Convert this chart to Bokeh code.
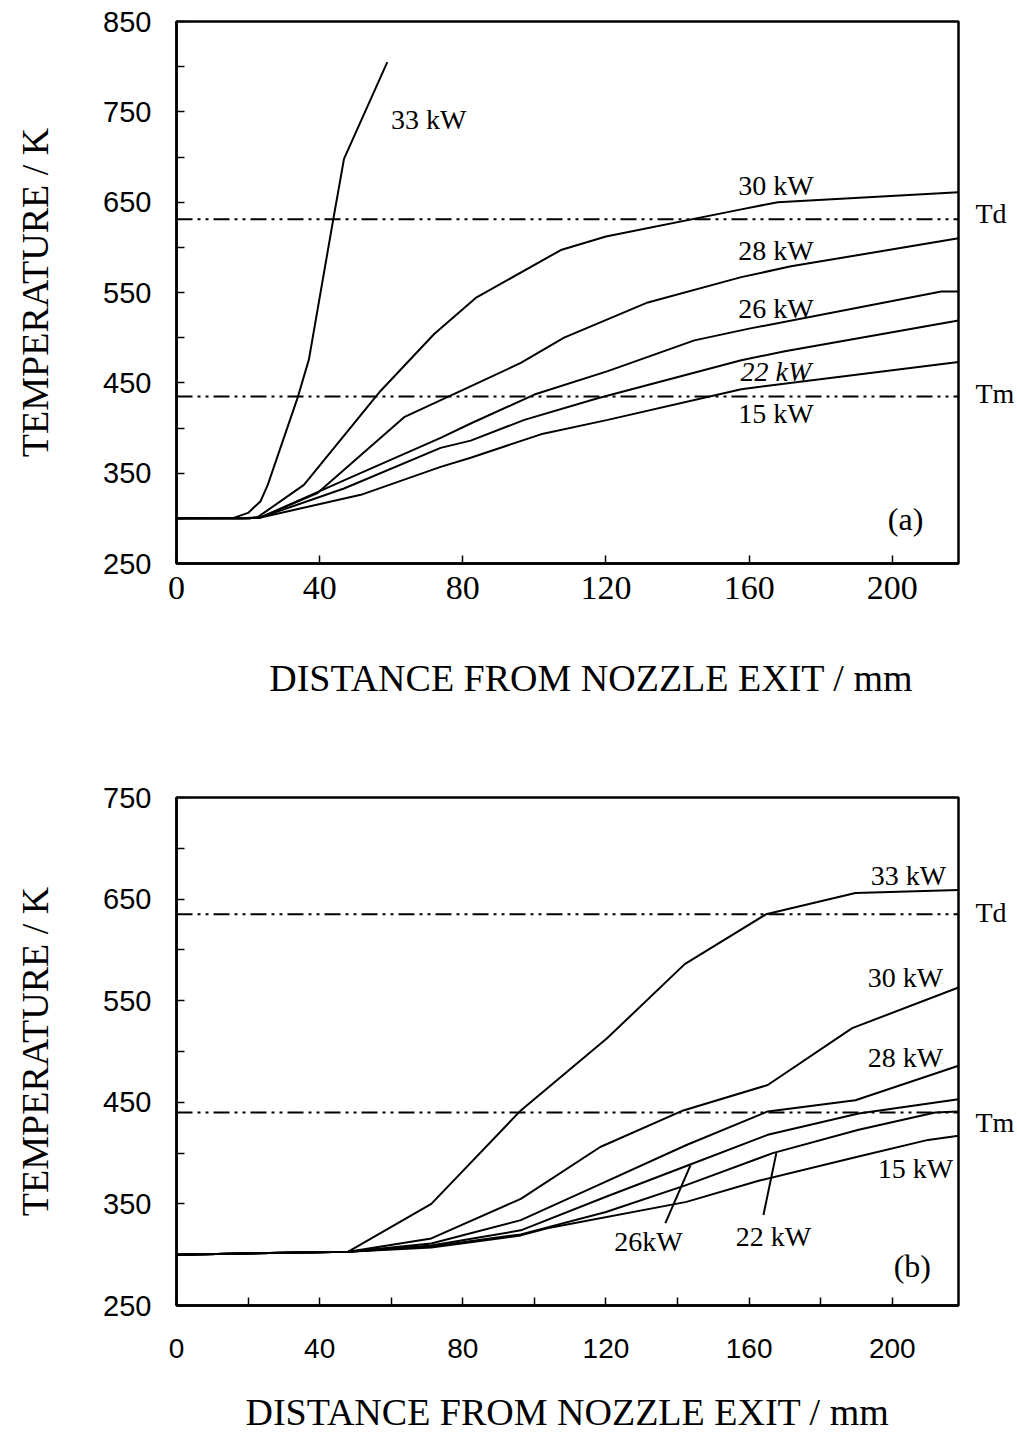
from bokeh.plotting import figure
from bokeh.models import Range1d, FixedTicker, Label, Span, LinearAxis
from bokeh.layouts import column
from bokeh.embed import file_html
from bokeh.resources import INLINE

# ---------------- Panel (a) data ----------------
a_x33 = [0, 16, 20, 23.5, 25.5, 33.8, 37, 43.8, 46.8, 58.9]
a_t33 = [300, 300.5, 306, 319, 337, 433, 476, 631, 698, 805]
a_x30 = [0, 18, 22.6, 35.6, 57, 72, 83.6, 107.4, 120, 157.8, 168, 218.5]
a_t30 = [300, 300, 301, 337, 441, 504, 544, 597, 612, 642, 650, 661]
a_x28 = [0, 20, 23.5, 39.4, 63.6, 83.2, 96.2, 108.3, 131.7, 157.8, 171.7, 218.5]
a_t28 = [300, 300, 301, 328, 412, 448, 472, 500, 539, 567, 579, 610]
a_x26 = [0, 20, 23.5, 46.8, 73.8, 82.2, 100, 120.5, 144.7, 160, 213.7, 218.5]
a_t26 = [300, 300, 301, 342, 389, 405, 437, 463, 497, 510, 551, 551]
a_x22 = [0, 20, 23.5, 46.8, 73.8, 82.2, 97.2, 117.7, 157.8, 170, 218.5]
a_t22 = [300, 300, 301, 333, 378, 386, 409, 433, 475, 485, 519]
a_x15 = [0, 20, 23.5, 51.5, 73.8, 82.2, 101.8, 120.5, 157.8, 218.5]
a_t15 = [300, 300, 301, 326, 357, 367, 393, 409, 443, 473]
a_Td = 631
a_Tm = 435
a_series = [(a_x33, a_t33), (a_x30, a_t30), (a_x28, a_t28),
            (a_x26, a_t26), (a_x22, a_t22), (a_x15, a_t15)]
a_labels = ["33 kW", "30 kW", "28 kW", "26 kW", "22 kW", "15 kW", "(a)"]
a_label_x = [70.5, 167.5, 167.5, 167.5, 167.5, 167.5, 203.7]
a_label_y = [742, 668, 596, 532, 463, 416, 299]
a_label_style = ["normal", "normal", "normal", "normal", "italic", "normal", "normal"]
a_side_names = ["Td", "Tm"]
a_side_y = [638, 438]

# ---------------- Panel (b) data ----------------
b_x33 = [0, 48, 71.2, 96.2, 120.3, 142, 164.7, 189.7, 218.5]
b_t33 = [300, 303, 350, 442, 513, 586, 635, 656, 659]
b_x30 = [0, 48, 71.2, 96.2, 118.4, 141.6, 165.2, 188.8, 218.5]
b_t30 = [300, 303, 316, 355, 406, 442, 467, 523, 563]
b_x28 = [0, 48, 71.2, 96.2, 117.5, 142.5, 165.2, 189.7, 218.5]
b_t28 = [300, 303, 311, 334, 368, 408, 441, 452, 486]
b_x26 = [0, 48, 71.2, 96.2, 120, 143, 165.2, 190.6, 218.5]
b_t26 = [300, 303, 309, 324, 357, 388, 418, 439, 453]
b_x22 = [0, 48, 71.2, 96.2, 120, 142, 166.6, 190.6, 212, 218.5]
b_t22 = [300, 303, 308, 320, 342, 368, 400, 423, 440, 441]
b_x15 = [0, 48, 71.2, 96.2, 103.6, 142.5, 162.9, 189.7, 210, 218.5]
b_t15 = [300, 303, 307, 319, 326, 352, 373, 396, 413, 417]
b_Td = 635
b_Tm = 440
b_series = [(b_x33, b_t33), (b_x30, b_t30), (b_x28, b_t28),
            (b_x26, b_t26), (b_x22, b_t22), (b_x15, b_t15)]
b_labels = ["33 kW", "30 kW", "28 kW", "15 kW", "26kW", "22 kW", "(b)"]
b_label_x = [204.5, 203.7, 203.7, 206.5, 131.9, 166.8, 205.6]
b_label_y = [673, 573, 494, 385, 313, 318, 289]
b_side_names = ["Td", "Tm"]
b_side_y = [637, 430]
b_leader_x0 = [136.6, 164.0]
b_leader_y0 = [331, 339]
b_leader_x1 = [143.6, 167.6]
b_leader_y1 = [388, 400]

# ticks
a_yticks = [250, 350, 450, 550, 650, 750, 850]
a_yminor = [300, 400, 500, 600, 700, 800]
b_yticks = [250, 350, 450, 550, 650, 750]
b_yminor = [300, 400, 500, 600, 700]
xticks = [0, 40, 80, 120, 160, 200]
b_xminor = [20, 60, 100, 140, 180]

X_MAX = 218.5
DASH = "16 5 3 5 3 5"
X_TITLE = "DISTANCE FROM NOZZLE EXIT / mm"


def base_fig(ymin, ymax, top_border, bottom_border, frame_h):
    p = figure(frame_width=782, frame_height=frame_h,
               min_border_left=176, min_border_right=50,
               min_border_top=top_border, min_border_bottom=bottom_border,
               x_range=Range1d(0, X_MAX), y_range=Range1d(ymin, ymax),
               output_backend="svg", toolbar_location=None)
    p.xgrid.visible = False
    p.ygrid.visible = False
    p.outline_line_color = "black"
    p.outline_line_width = 2.5
    p.outline_line_alpha = 1
    p.background_fill_color = "white"
    p.border_fill_color = "white"
    for ax in (p.xaxis[0], p.yaxis[0]):
        ax.axis_line_width = 2.5
        ax.axis_line_color = "black"
        ax.major_tick_in = 8
        ax.major_tick_out = 0
        ax.minor_tick_in = 8
        ax.minor_tick_out = 0
        ax.major_tick_line_width = 1.5
        ax.minor_tick_line_width = 1.5
        ax.major_label_text_color = "black"
        ax.axis_label_text_color = "black"
        ax.axis_label_text_font = "Liberation Serif"
        ax.axis_label_text_font_style = "normal"
        ax.axis_label_text_font_size = "38px"
    p.yaxis[0].major_label_text_font = "Liberation Sans"
    p.yaxis[0].major_label_text_font_size = "29px"
    p.yaxis[0].major_label_standoff = 25
    p.yaxis[0].axis_label = "TEMPERATURE / K"
    p.yaxis[0].axis_label_standoff = 44
    return p


def side_axis(p, names, ys):
    ax = LinearAxis(ticker=FixedTicker(ticks=ys, minor_ticks=[]),
                    major_label_overrides={y: n for y, n in zip(ys, names)},
                    axis_line_color=None, major_tick_line_color=None,
                    minor_tick_line_color=None, major_tick_in=0, major_tick_out=0,
                    major_label_standoff=17,
                    major_label_text_font="Liberation Serif",
                    major_label_text_font_size="28px",
                    major_label_text_color="black")
    p.add_layout(ax, "right")


# ---------------- Figure (a) ----------------
p1 = base_fig(250, 850, 21, 185, 542)
p1.yaxis[0].ticker = FixedTicker(ticks=a_yticks, minor_ticks=a_yminor)
p1.xaxis[0].ticker = FixedTicker(ticks=xticks, minor_ticks=[])
p1.xaxis[0].major_label_text_font = "Liberation Serif"
p1.xaxis[0].major_label_text_font_size = "34px"
p1.xaxis[0].major_label_standoff = 13
p1.xaxis[0].axis_label = "\u00a0" * 5 + X_TITLE
p1.xaxis[0].axis_label_standoff = 55
side_axis(p1, a_side_names, a_side_y)

for xs, ts in a_series:
    p1.line(xs, ts, line_color="black", line_width=2)
for level in (a_Td, a_Tm):
    p1.add_layout(Span(location=level, dimension="width", line_color="black",
                       line_width=2, line_dash=DASH))
for txt, lx, ly, st in zip(a_labels, a_label_x, a_label_y, a_label_style):
    fs = "32px" if txt.startswith("(") else "28px"
    p1.add_layout(Label(x=lx, y=ly, text=txt, text_align="center", text_baseline="middle",
                        text_font="Liberation Serif", text_font_size=fs,
                        text_font_style=st, text_color="black"))

# ---------------- Figure (b) ----------------
p2 = base_fig(250, 750, 49, 135, 508)
p2.yaxis[0].ticker = FixedTicker(ticks=b_yticks, minor_ticks=b_yminor)
p2.xaxis[0].ticker = FixedTicker(ticks=xticks, minor_ticks=b_xminor)
p2.xaxis[0].major_label_text_font = "Liberation Sans"
p2.xaxis[0].major_label_text_font_size = "28px"
p2.xaxis[0].major_label_standoff = 33
p2.xaxis[0].axis_label = X_TITLE
p2.xaxis[0].axis_label_standoff = 30
side_axis(p2, b_side_names, b_side_y)

for xs, ts in b_series:
    p2.line(xs, ts, line_color="black", line_width=2)
for level in (b_Td, b_Tm):
    p2.add_layout(Span(location=level, dimension="width", line_color="black",
                       line_width=2, line_dash=DASH))
p2.segment(b_leader_x0, b_leader_y0, b_leader_x1, b_leader_y1,
           line_color="black", line_width=2)
for txt, lx, ly in zip(b_labels, b_label_x, b_label_y):
    fs = "32px" if txt.startswith("(") else "28px"
    p2.add_layout(Label(x=lx, y=ly, text=txt, text_align="center", text_baseline="middle",
                        text_font="Liberation Serif", text_font_size=fs,
                        text_color="black"))

layout = column(p1, p2, spacing=0)
open("out.html", "w").write(file_html(layout, INLINE))
